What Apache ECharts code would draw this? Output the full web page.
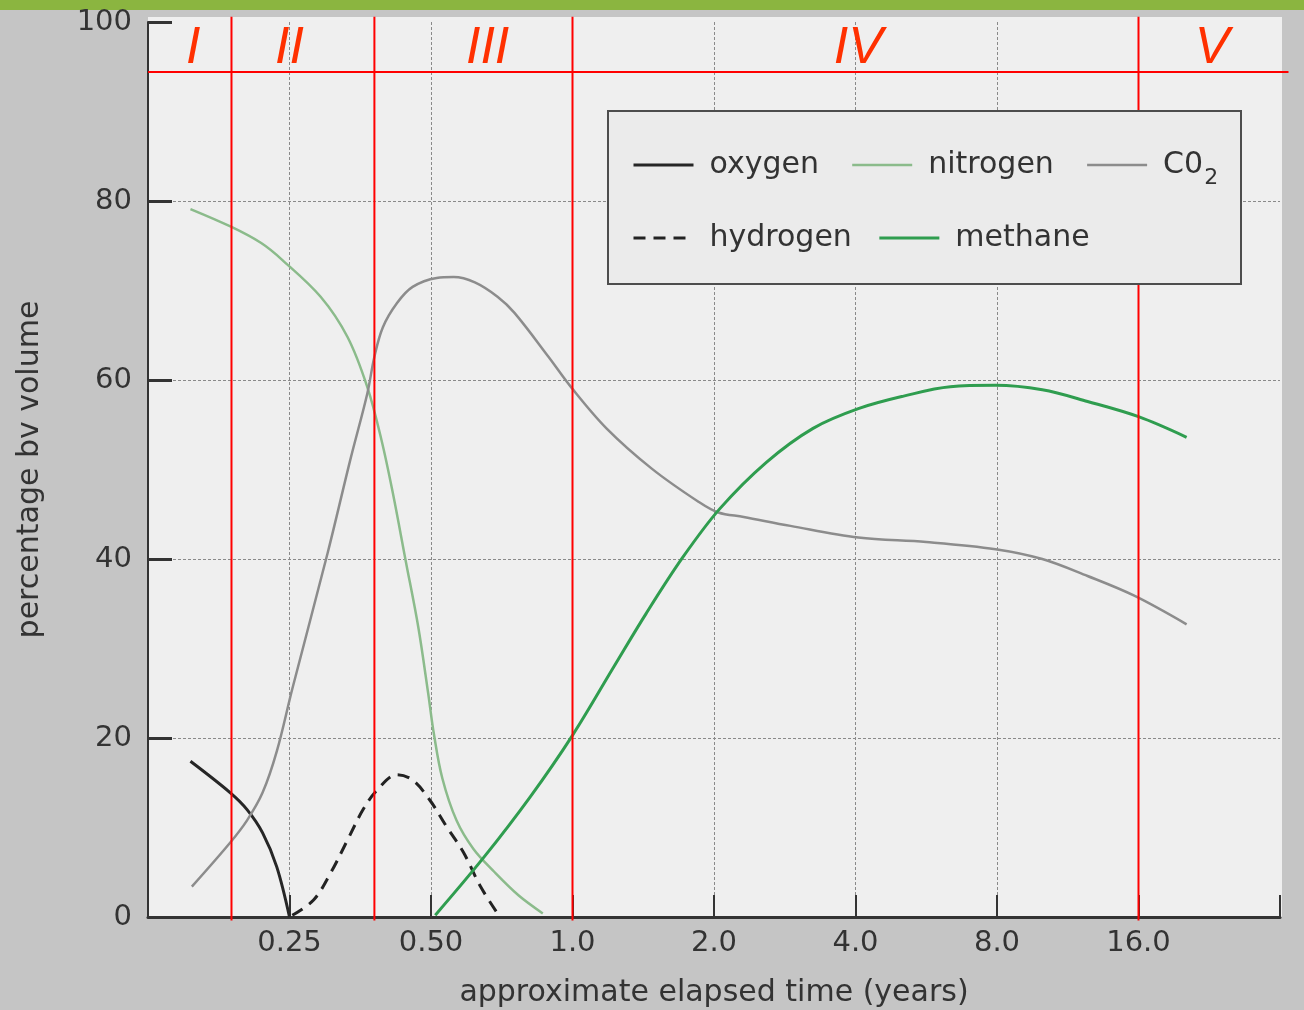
<!DOCTYPE html>
<html><head><meta charset="utf-8">
<script src="https://cdn.jsdelivr.net/npm/echarts@6/dist/echarts.min.js"></script>
<style>html,body{margin:0;padding:0;background:#c5c5c5;}#c{width:1304px;height:1010px;}</style>
</head><body><div id="c"></div><script>
// x positions are tick-index positions on the (doubling) time scale: 1 = 0.25 yr, 2 = 0.50 yr, 3 = 1.0 yr ...
const tickLabels = ['', '0.25', '0.50', '1.0', '2.0', '4.0', '8.0', '16.0', ''];
const oxygen = [[0.30,17.4],[0.58,13.9],[0.70,12.0],[0.81,9.4],[0.91,5.6],[1.0,0]];
const nitrogen = [[0.30,79.1],[0.59,77.1],[0.80,75.3],[0.95,73.4],[1.22,69.3],[1.41,64.8],[1.55,59.2],[1.65,53.3],[1.73,47.4],[1.82,39.9],[1.91,32.4],[1.98,25.0],[2.02,20.5],[2.08,15.5],[2.18,10.8],[2.30,7.6],[2.45,5.0],[2.62,2.4],[2.79,0.4]];
const co2 = [[0.31,3.4],[0.58,8.3],[0.70,10.8],[0.81,13.9],[0.91,18.5],[1.02,25.5],[1.27,40.7],[1.43,51.1],[1.55,58.5],[1.60,62.6],[1.66,65.9],[1.76,68.6],[1.87,70.4],[2.04,71.4],[2.16,71.5],[2.31,70.9],[2.47,69.3],[2.59,67.5],[2.83,62.6],[2.99,59.2],[3.24,54.6],[3.56,50.1],[3.89,46.4],[4.03,45.2],[4.21,44.7],[4.54,43.7],[5.02,42.4],[5.5,41.9],[5.99,41.1],[6.32,40.0],[6.64,38.1],[6.97,35.9],[7.34,32.7]];
const hydrogen = [[1.02,0.2],[1.17,1.9],[1.29,4.9],[1.41,8.6],[1.52,12.0],[1.62,14.2],[1.76,15.9],[1.87,15.3],[1.99,13.1],[2.11,10.1],[2.23,7.2],[2.35,3.4],[2.47,0.4]];
const methane = [[2.03,0.2],[2.37,6.6],[2.70,13.4],[3.0,20.3],[3.29,27.9],[3.52,33.9],[3.78,40.2],[4.04,45.6],[4.37,50.8],[4.7,54.6],[5.02,56.8],[5.34,58.2],[5.67,59.25],[5.99,59.4],[6.32,58.9],[6.64,57.6],[7.0,55.9],[7.34,53.6]];
const phaseBounds = [0.59, 1.60, 3.0, 7.0];
const phaseNames = ['I', 'II', 'III', 'IV', 'V'];
const phaseLabelX = [0.32, 1.0, 2.40, 5.02, 7.52];
const phaseLabelY = 97.0;
const phaseRule = [[0, 94.4, 8.06]];

const FONT = 'DejaVu Sans';
const chart = echarts.init(document.getElementById('c'), null, {renderer: 'canvas'});

function lineSeries(name, data, color, width, type) {
  return {
    name, type: 'line', data, smooth: 0.35, symbol: 'none', z: 3,
    lineStyle: {color, width, type: type || 'solid'}, itemStyle: {color},
    emphasis: {disabled: true}
  };
}
const legendText = {
  fontFamily: FONT, fontSize: 30, color: '#333', padding: [0, 0, 0, 11],
  rich: {a: {fontFamily: FONT, fontSize: 30, color: '#333'}, s: {fontFamily: FONT, fontSize: 22, color: '#333', padding: [26, 0, 0, 1]}}
};
const legendFmt = n => n === 'CO2' ? '{a|C0}{s|2}' : n;
const hideSymbol = {color: 'rgba(0,0,0,0)', borderColor: 'rgba(0,0,0,0)', borderWidth: 0, opacity: 0};

chart.setOption({
  backgroundColor: '#c5c5c5',
  animation: false,
  graphic: [
    {type: 'rect', z: -10, shape: {x: 0, y: 0, width: 1304, height: 10}, style: {fill: '#8bb540'}},
    {type: 'rect', z: -10, shape: {x: 148, y: 17, width: 1134, height: 900}, style: {fill: '#efefef'}},
    {type: 'rect', z: 50, shape: {x: 608, y: 111, width: 633, height: 173}, style: {fill: '#ebebeb', stroke: '#4d4d4d', lineWidth: 2}}
  ],
  grid: {left: 148, right: 24, top: 22, bottom: 93, outerBoundsMode: 'none', containLabel: false},
  legend: [
    {data: [{name: 'oxygen', lineStyle: {width: 3}}, {name: 'nitrogen', lineStyle: {width: 2.5}}, {name: 'CO2', lineStyle: {width: 2.5}}],
     left: 627, top: 145, itemWidth: 60, itemHeight: 14, itemGap: 32, z: 60, itemStyle: hideSymbol,
     textStyle: legendText, formatter: legendFmt, selectedMode: false},
    {data: [{name: 'hydrogen', lineStyle: {width: 3}}, {name: 'methane', lineStyle: {width: 3}}],
     left: 627, top: 218, itemWidth: 60, itemHeight: 14, itemGap: 26, z: 60, itemStyle: hideSymbol,
     textStyle: legendText, formatter: legendFmt, selectedMode: false}
  ],
  xAxis: {
    type: 'value', min: 0, max: 8, interval: 1,
    name: 'approximate elapsed time (years)', nameLocation: 'middle', nameGap: 61,
    nameTextStyle: {fontFamily: FONT, fontSize: 30, color: '#333'},
    axisLine: {lineStyle: {color: '#333', width: 3}},
    axisTick: {inside: true, length: 22, lineStyle: {color: '#333', width: 2}},
    axisLabel: {fontFamily: FONT, fontSize: 29, color: '#333', margin: 12, formatter: v => tickLabels[Math.round(v)]},
    splitLine: {show: true, showMinLine: false, showMaxLine: false, lineStyle: {color: '#8a8a8a', width: 1, type: [3, 2]}}
  },
  yAxis: {
    type: 'value', min: 0, max: 100, interval: 20,
    name: 'percentage bv volume', nameLocation: 'middle', nameGap: 103,
    nameTextStyle: {fontFamily: FONT, fontSize: 30, color: '#333'},
    axisLine: {show: true, lineStyle: {color: '#333', width: 2}},
    axisTick: {show: true, inside: true, length: 24, lineStyle: {color: '#333', width: 3}},
    axisLabel: {fontFamily: FONT, fontSize: 29, color: '#333', margin: 16},
    splitLine: {show: true, showMinLine: false, showMaxLine: false, lineStyle: {color: '#8a8a8a', width: 1, type: [3, 2]}}
  },
  series: [
    lineSeries('oxygen', oxygen, '#262626', 3),
    lineSeries('nitrogen', nitrogen, '#8bbb8b', 2.5),
    lineSeries('CO2', co2, '#8c8c8c', 2.5),
    lineSeries('hydrogen', hydrogen, '#222222', 3, [12, 8]),
    lineSeries('methane', methane, '#2f9d4f', 3),
    {
      name: 'phaseBounds', type: 'custom', data: phaseBounds.map(b => [b]), clip: false, silent: true, z: 4,
      encode: {x: 0},
      renderItem: (params, api) => {
        const x = api.value(0);
        const p0 = api.coord([x, -0.4]);
        const p1 = api.coord([x, 100.6]);
        return {type: 'line', shape: {x1: p0[0], y1: p0[1], x2: p1[0], y2: p1[1]}, style: {stroke: '#ff0000', lineWidth: 2}};
      }
    },
    {
      name: 'phaseRule', type: 'custom', data: phaseRule, clip: false, silent: true, z: 4,
      encode: {x: 0, y: 1},
      renderItem: (params, api) => {
        const p0 = api.coord([api.value(0), api.value(1)]);
        const p1 = api.coord([api.value(2), api.value(1)]);
        return {type: 'line', shape: {x1: p0[0], y1: p0[1], x2: p1[0], y2: p1[1]}, style: {stroke: '#ff0000', lineWidth: 2}};
      }
    },
    {
      name: 'phaseNames', type: 'custom', data: phaseLabelX.map((x, i) => [x, phaseLabelY, i]), clip: false, silent: true, z: 4,
      encode: {x: 0, y: 1},
      renderItem: (params, api) => {
        const p = api.coord([api.value(0), api.value(1)]);
        return {type: 'text', x: p[0], y: p[1], style: {text: phaseNames[api.value(2)], fill: '#ff3000',
          font: 'italic 52px "Liberation Sans"', align: 'center', verticalAlign: 'middle'}};
      }
    }
  ]
});
</script></body></html>
